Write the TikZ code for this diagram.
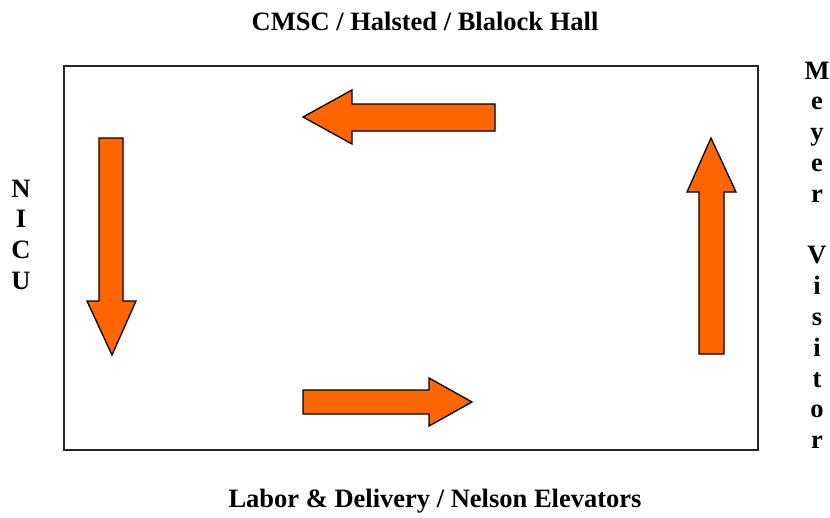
\documentclass[tikz,border=0pt]{standalone}
\usepackage{fontspec}
\setmainfont{Liberation Serif}
\definecolor{arroworange}{HTML}{FF6600}
\begin{document}
\begin{tikzpicture}[x=1pt,y=-1pt,
  flowarrow/.style={fill=arroworange,draw=black,line width=1.3pt,line join=miter},
  frame/.style={draw=black!85,line width=1.3pt},
  lbl/.style={font=\fontsize{26.5}{31}\selectfont\bfseries,inner sep=0pt,anchor=base},
  letter/.style={font=\fontsize{26.5}{31}\selectfont\bfseries,inner sep=0pt,anchor=base}]
\useasboundingbox (0,0) rectangle (830,517);
\draw[frame] (64,66) rectangle (758,450);
% arrows
\draw[flowarrow] (495,104) -- (352,104) -- (352,90) -- (303,117) -- (352,144) -- (352,131) -- (495,131) -- cycle;
\draw[flowarrow] (99,138) -- (123,138) -- (123,301) -- (136,301) -- (112,355) -- (87,301) -- (99,301) -- cycle;
\draw[flowarrow] (303,390) -- (429,390) -- (429,378) -- (472,402) -- (429,426) -- (429,414) -- (303,414) -- cycle;
\draw[flowarrow] (699,354) -- (699,192) -- (687,192) -- (711,138) -- (736,192) -- (724,192) -- (724,354) -- cycle;
% labels
\node[lbl] (top) at (425,30) {CMSC / Halsted / Blalock Hall};
\node[lbl] (bottom) at (435,507) {Labor \& Delivery / Nelson Elevators};
\foreach \ch [count=\i from 0] in {N,I,C,U}
  \node[letter] (nicu\i) at (21,197+30.7*\i) {\ch};
\foreach \ch/\k in {M/0,e/1,y/2,e/3,r/4,V/6,i/7,s/8,i/9,t/10,o/11,r/12}
  \node[letter] (mv\k) at (817,79+30.8*\k) {\ch};
\end{tikzpicture}
\end{document}
